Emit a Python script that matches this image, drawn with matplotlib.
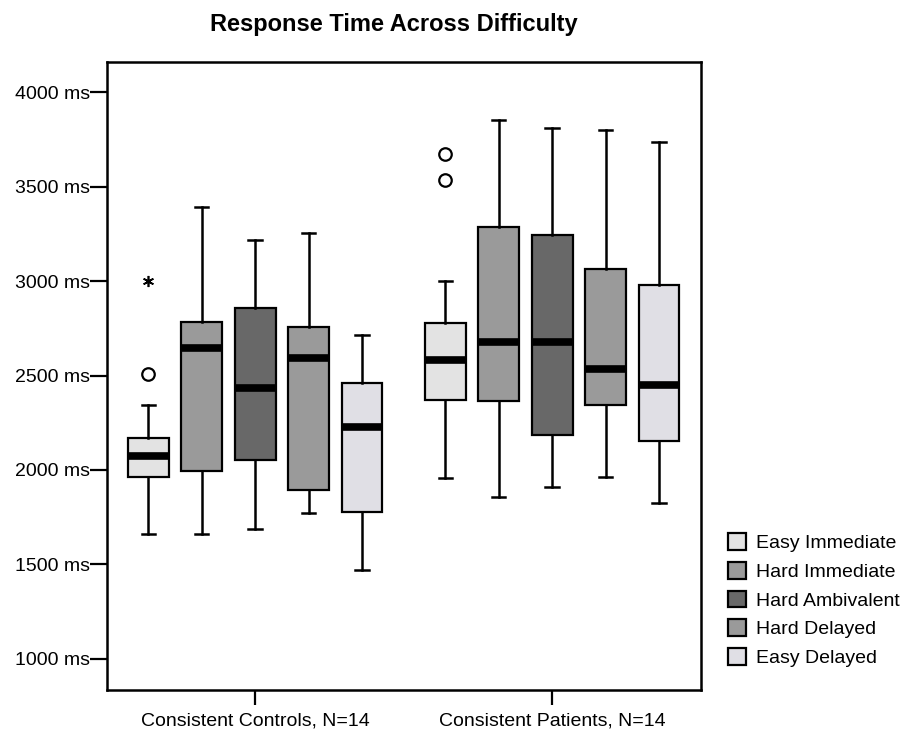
import matplotlib
matplotlib.use("Agg")
import matplotlib.pyplot as plt
from matplotlib.patches import Patch

plt.rcParams["font.family"] = ["Liberation Sans", "DejaVu Sans"]

GROUPS = ["Consistent Controls, N=14", "Consistent Patients, N=14"]
CONDITIONS = ["Easy Immediate", "Hard Immediate", "Hard Ambivalent", "Hard Delayed", "Easy Delayed"]
COLORS = ["#e3e3e3", "#9a9a9a", "#686868", "#9a9a9a", "#e0dfe5"]

# per group, per condition: lower whisker, Q1, median, Q3, upper whisker (ms)
WHISK_LO = [[1663, 1660, 1690, 1773, 1472],
            [1956, 1858, 1911, 1961, 1823]]
Q1 = [[1965, 1995, 2053, 1894, 1775],
      [2372, 2367, 2186, 2342, 2154]]
MEDIAN = [[2074, 2644, 2434, 2594, 2227],
          [2580, 2679, 2677, 2535, 2452]]
Q3 = [[2169, 2784, 2860, 2757, 2461],
      [2780, 3289, 3246, 3064, 2980]]
WHISK_HI = [[2346, 3392, 3218, 3254, 2715],
            [3002, 3852, 3809, 3800, 3737]]
# outliers (circles) and extremes (stars)
OUTLIERS = [[[2509], [], [], [], []],
            [[3672, 3534], [], [], [], []]]
EXTREMES = [[[3002], [], [], [], []],
            [[], [], [], [], []]]

OFFSETS = [-0.36, -0.18, 0.0, 0.18, 0.36]
BOX_W = 0.137

fig = plt.figure(figsize=(9.09, 7.32), dpi=100)
ax = fig.add_axes([0.1174, 0.0574, 0.6534, 0.8583])

for g in range(len(GROUPS)):
    stats = []
    for c in range(len(CONDITIONS)):
        stats.append(dict(whislo=WHISK_LO[g][c], q1=Q1[g][c], med=MEDIAN[g][c],
                          q3=Q3[g][c], whishi=WHISK_HI[g][c], fliers=OUTLIERS[g][c]))
    pos = [g + o for o in OFFSETS]
    bp = ax.bxp(stats, positions=pos, widths=BOX_W, patch_artist=True, manage_ticks=False,
                boxprops=dict(edgecolor="black", linewidth=1.6),
                whiskerprops=dict(color="black", linewidth=1.8),
                capprops=dict(color="black", linewidth=1.8),
                medianprops=dict(color="black", linewidth=5.5, solid_capstyle="butt"),
                flierprops=dict(marker="o", markersize=9, markerfacecolor="none",
                                markeredgecolor="black", markeredgewidth=1.6),
                capwidths=BOX_W * 0.33)
    for patch, col in zip(bp["boxes"], COLORS):
        patch.set_facecolor(col)
    for c in range(len(CONDITIONS)):
        ys = EXTREMES[g][c]
        if ys:
            ax.plot([pos[c]] * len(ys), ys, linestyle="none", marker=(6, 2, 0),
                    markersize=8, color="black", markeredgewidth=1.2)

ax.set_xlim(-0.5, 1.5)
ax.set_ylim(835, 4162)
ax.set_yticks([1000, 1500, 2000, 2500, 3000, 3500, 4000])
ax.set_yticklabels([f"{v} ms" for v in ax.get_yticks().astype(int)])
ax.set_xticks([0, 1])
ax.set_xticklabels(GROUPS)
ax.tick_params(axis="y", length=12, width=1.6, labelsize=14, pad=0, color="black")
ax.tick_params(axis="x", length=11, width=1.6, labelsize=14, pad=5, color="black")
for side in ["left", "right", "top", "bottom"]:
    ax.spines[side].set_linewidth(1.8)

handles = [Patch(facecolor=col, edgecolor="black", linewidth=1.6, label=lab)
           for col, lab in zip(COLORS, CONDITIONS)]
fig.legend(handles=handles, loc="center left", bbox_to_anchor=(0.792, 0.180), frameon=False,
           fontsize=14, handlelength=0.93, handleheight=0.93, handletextpad=0.55, labelspacing=0.5,
           borderaxespad=0)

fig.suptitle("Response Time Across Difficulty", x=0.433, y=0.982, fontsize=17, fontweight="bold")

fig.savefig("out.png", dpi=100)
